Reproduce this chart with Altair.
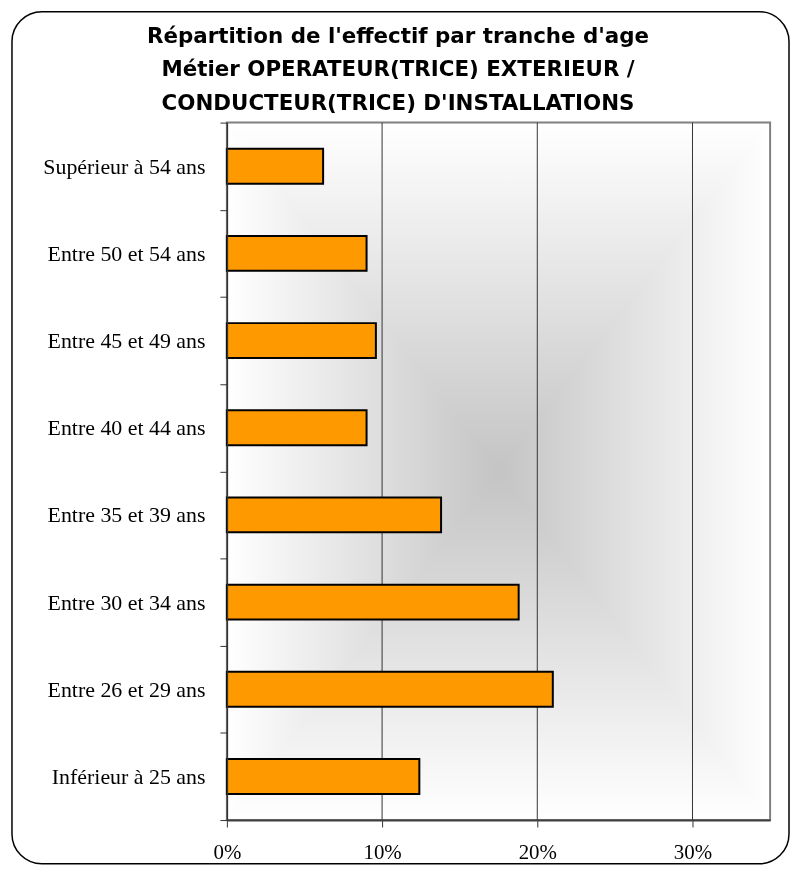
import altair as alt
import pandas as pd

TITLE_LINES = [
    "Répartition de l'effectif par tranche d'age",
    "Métier OPERATEUR(TRICE) EXTERIEUR /",
    "CONDUCTEUR(TRICE) D'INSTALLATIONS",
]
CATEGORIES = [
    "Supérieur à 54 ans",
    "Entre 50 et 54 ans",
    "Entre 45 et 49 ans",
    "Entre 40 et 44 ans",
    "Entre 35 et 39 ans",
    "Entre 30 et 34 ans",
    "Entre 26 et 29 ans",
    "Inférieur à 25 ans",
]
VALUES = [6.2, 9.0, 9.6, 9.0, 13.8, 18.8, 21.0, 12.4]
TICK_VALUES = [0, 10, 20, 30]
GRID_VALUES = [10, 20, 30]
X_MAX = 35

W, H = 546, 701

df = pd.DataFrame({"tranche": CATEGORIES, "pct": VALUES})
one = pd.DataFrame({"k": [0]})
grid_df = pd.DataFrame({"pct": GRID_VALUES})

xscale = alt.Scale(domain=[0, X_MAX], nice=False)
xaxis = alt.Axis(
    values=TICK_VALUES, labelExpr="datum.value + '%'", title=None, grid=False,
    tickSize=7, tickColor="#333333", domainColor="#404040", domainWidth=2,
    labelFont="Liberation Serif", labelFontSize=21, labelColor="black",
    labelPadding=15, labelFlush=False, zindex=1,
)

frame = alt.Chart(one).mark_rect(
    fill="white", stroke="black", strokeWidth=1.5, cornerRadius=30
).encode(
    x=alt.value(-216), x2=alt.value(565), y=alt.value(-111.5), y2=alt.value(745)
)

title = alt.Chart(one).mark_text(
    font="DejaVu Sans", fontWeight="bold", fontSize=21.5, align="center",
    baseline="alphabetic", lineHeight=34, color="black"
).encode(x=alt.value(172), y=alt.value(-80.5), text=alt.value(TITLE_LINES))

stops = [
    {"offset": 0, "color": "#ffffff"},
    {"offset": 0.5, "color": "#c4c4c4"},
    {"offset": 1, "color": "#ffffff"},
]
grad_h = alt.Chart(one).mark_rect(
    fill={"gradient": "linear", "stops": stops, "x1": 0, "x2": 1, "y1": 0, "y2": 0}
).encode(x=alt.value(0), x2=alt.value(W), y=alt.value(0), y2=alt.value(H))

grad_v = alt.Chart(one).mark_rect(
    fill={"gradient": "linear", "stops": stops, "x1": 0, "x2": 0, "y1": 0, "y2": 1},
    blend="lighten",
).encode(x=alt.value(0), x2=alt.value(W), y=alt.value(0), y2=alt.value(H))

border = alt.Chart(one).mark_rect(
    filled=False, stroke="#808080", strokeWidth=2
).encode(x=alt.value(0), x2=alt.value(W), y=alt.value(0), y2=alt.value(H))

grid = alt.Chart(grid_df).mark_rule(color="#333333", strokeWidth=1).encode(
    x=alt.X("pct:Q", scale=xscale, axis=xaxis),
    y=alt.value(0),
    y2=alt.value(H),
)

bars = alt.Chart(df).mark_bar(
    fill="#FF9900", stroke="black", strokeWidth=2, height={"band": 0.4}
).encode(
    x=alt.X("pct:Q", scale=xscale, axis=xaxis),
    y=alt.Y(
        "tranche:N",
        sort=CATEGORIES,
        scale=alt.Scale(paddingInner=0, paddingOuter=0),
        axis=alt.Axis(
            title=None, tickBand="extent", tickSize=7, tickColor="#333333",
            domainColor="#333333", domainWidth=1.5, labelFont="Liberation Serif",
            labelFontSize=22, labelColor="black", labelPadding=15, labelLimit=400,
            grid=False, zindex=1,
        ),
    ),
)

chart = alt.layer(frame, title, grad_h, grad_v, border, grid, bars).properties(
    width=W, height=H,
    autosize=alt.AutoSizeParams(type="none"),
    padding={"left": 220, "top": 113, "right": 20, "bottom": 45},
).configure_view(strokeWidth=0)

chart.save("out.html", embed_options={"renderer": "svg", "actions": False})
